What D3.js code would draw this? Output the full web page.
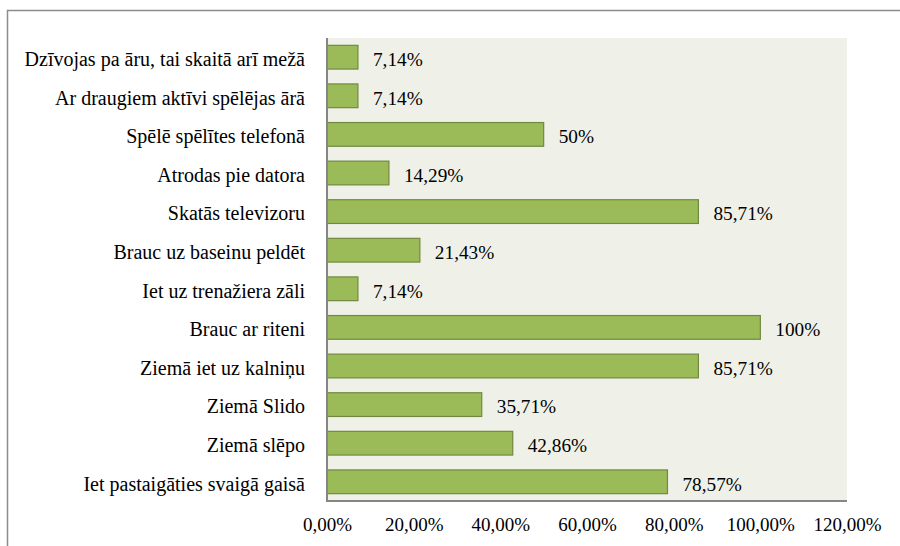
<!DOCTYPE html>
<html>
<head>
<meta charset="utf-8">
<script src="https://cdn.jsdelivr.net/npm/d3@7/dist/d3.min.js"></script>
<style>
    html, body { margin: 0; padding: 0; background: #fff; }
    svg { display: block; }
</style>
</head>
<body>
<svg id="chart" width="900" height="546"></svg>
<script>
"use strict";

// categories, top to bottom as drawn
var categories = [
    "Dzīvojas pa āru, tai skaitā arī mežā",
    "Ar draugiem aktīvi spēlējas ārā",
    "Spēlē spēlītes telefonā",
    "Atrodas pie datora",
    "Skatās televizoru",
    "Brauc uz baseinu peldēt",
    "Iet uz trenažiera zāli",
    "Brauc ar riteni",
    "Ziemā iet uz kalniņu",
    "Ziemā Slido",
    "Ziemā slēpo",
    "Iet pastaigāties svaigā gaisā"
];

var values = [7.14, 7.14, 50, 14.29, 85.71, 21.43, 7.14, 100, 85.71, 35.71, 42.86, 78.57];

var valueLabels = ["7,14%", "7,14%", "50%", "14,29%", "85,71%", "21,43%", "7,14%", "100%", "85,71%", "35,71%", "42,86%", "78,57%"];

var tickValues = [0, 20, 40, 60, 80, 100, 120];
var tickLabels = ["0,00%", "20,00%", "40,00%", "60,00%", "80,00%", "100,00%", "120,00%"];

var FONT = "'Liberation Serif'";

var svg = d3.select("#chart");

var plot = { left: 327, right: 847, top: 38, bottom: 501 };

// outer chart frame (right / bottom edges fall outside the picture)
svg.append("rect")
    .attr("x", 7.5)
    .attr("y", 10.5)
    .attr("width", 1000)
    .attr("height", 1000)
    .attr("fill", "#fff")
    .attr("stroke", "#8c8c8c")
    .attr("stroke-width", 1.5);

var x = d3.scaleLinear()
    .domain([0, 120])
    .range([plot.left, plot.right]);

var y = d3.scaleBand()
    .domain(categories)
    .range([plot.top, plot.bottom])
    .paddingInner(0.385)
    .paddingOuter(0.19);

// plot area background
svg.append("rect")
    .attr("x", plot.left)
    .attr("y", plot.top)
    .attr("width", plot.right - plot.left)
    .attr("height", plot.bottom - plot.top)
    .attr("fill", "#eff1e9");

// bars
svg.append("g")
    .selectAll("rect")
    .data(values)
    .join("rect")
    .attr("x", x(0))
    .attr("y", function(d, i) { return y(categories[i]); })
    .attr("width", function(d) { return x(d) - x(0); })
    .attr("height", y.bandwidth())
    .attr("fill", "#9bbb59")
    .attr("stroke", "#71893f")
    .attr("stroke-width", 1.2);

// value labels
svg.append("g")
    .selectAll("text")
    .data(values)
    .join("text")
    .attr("x", function(d) { return x(d) + 15; })
    .attr("y", function(d, i) { return y(categories[i]) + y.bandwidth() / 2; })
    .attr("dy", "0.46em")
    .attr("font-family", FONT)
    .attr("font-size", 19.3)
    .attr("fill", "#000")
    .text(function(d, i) { return valueLabels[i]; });

// category axis
var yAxis = d3.axisLeft(y).tickSize(0).tickPadding(22);
var yG = svg.append("g")
    .attr("transform", "translate(" + plot.left + ",0)")
    .call(yAxis);
yG.select(".domain").remove();
yG.selectAll("text")
    .attr("dy", "0.44em")
    .attr("font-family", FONT)
    .attr("font-size", 20)
    .attr("fill", "#000");

// value axis
var xAxis = d3.axisBottom(x)
    .tickValues(tickValues)
    .tickSize(0)
    .tickPadding(17)
    .tickFormat(function(d, i) { return tickLabels[i]; });
var xG = svg.append("g")
    .attr("transform", "translate(0," + plot.bottom + ")")
    .call(xAxis);
xG.select(".domain").remove();
xG.selectAll("text")
    .attr("font-family", FONT)
    .attr("font-size", 19)
    .attr("fill", "#000");

// axis lines
svg.append("line")
    .attr("x1", plot.left).attr("x2", plot.left)
    .attr("y1", plot.top).attr("y2", plot.bottom + 1)
    .attr("stroke", "#868686")
    .attr("stroke-width", 2);
svg.append("line")
    .attr("x1", plot.left).attr("x2", plot.right)
    .attr("y1", plot.bottom).attr("y2", plot.bottom)
    .attr("stroke", "#868686")
    .attr("stroke-width", 2);
</script>
</body>
</html>
